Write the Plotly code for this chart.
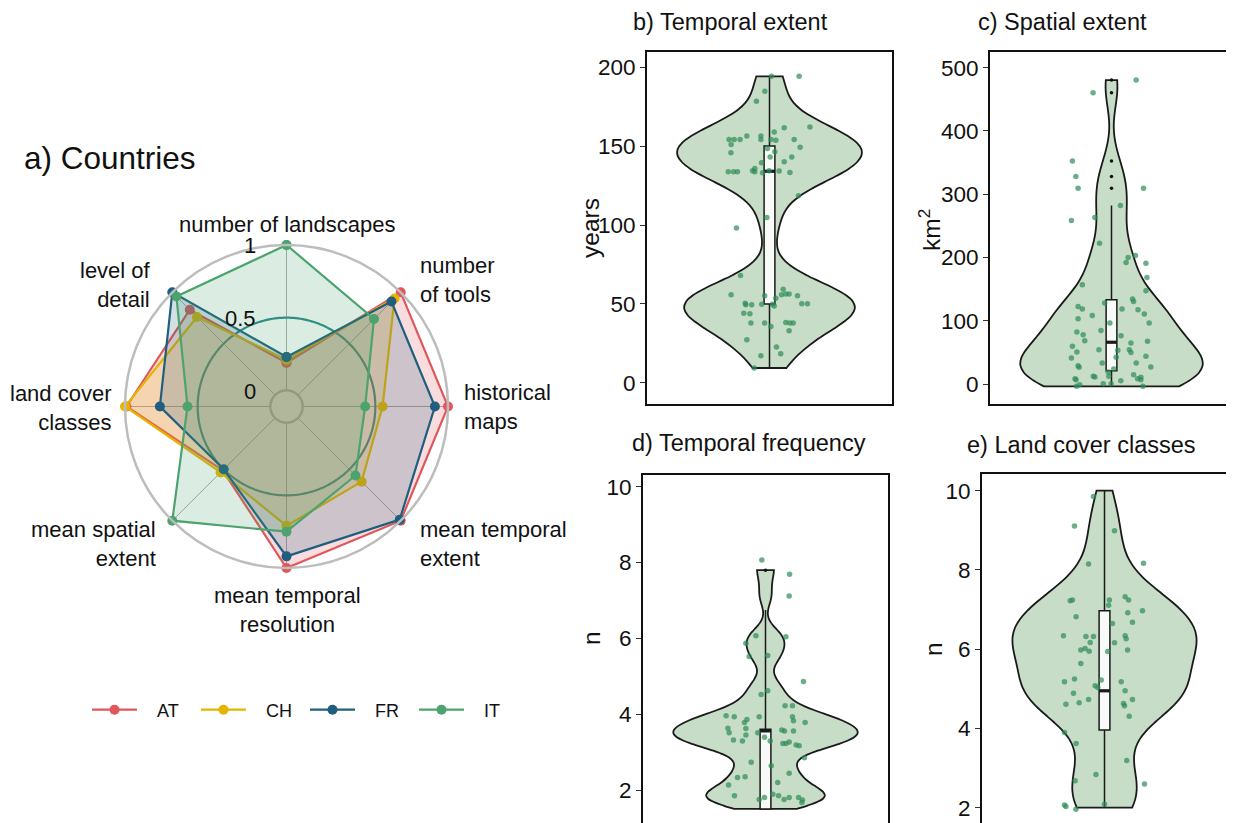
import numpy as np
import plotly.graph_objects as go

W, H = 1234, 823
OFF = 8  # default page body margin of the written html

# ---------------- a) Radar data ----------------
radar_axes = ["number of landscapes", "number<br>of tools", "historical<br>maps",
              "mean temporal<br>extent", "mean temporal<br>resolution",
              "mean spatial<br>extent", "land cover<br>classes", "level of<br>detail"]
countries = ["AT", "CH", "FR", "IT"]
AT = [0.19, 1.00, 1.00, 1.00, 1.00, 0.51, 0.99, 0.83]
CH = [0.21, 0.94, 0.55, 0.62, 0.71, 0.53, 1.00, 0.76]
FR = [0.23, 0.91, 0.91, 0.99, 0.92, 0.50, 0.76, 1.00]
IT = [1.00, 0.74, 0.43, 0.56, 0.75, 1.00, 0.57, 0.96]
country_colors = ["#E0575B", "#E5B400", "#1F5E7E", "#4CA36E"]
grid_values = [0, 0.5, 1]
grid_labels = ["0", "0.5", "1"]

# ---------------- b) Temporal extent (years) ----------------
te_y = [194.1, 194.1, 184.6, 178.3, 162.1, 161.5, 158.9, 156.4, 156.4, 154.1, 154.1, 154.1,
        154.1, 154.1, 153.7, 154.1, 150.9, 149.2, 148.4, 145.7, 146.3, 143.1, 143.1, 140.0,
        139.4, 135.8, 133.7, 133.7, 133.7, 134.3, 133.7, 133.0, 134.3, 134.1, 133.2, 118.5,
        104.8, 98.1, 68.0, 59.4, 55.8, 55.2, 55.8, 56.4, 56.4, 53.7, 55.2, 50.5, 49.5, 49.5,
        49.9, 49.9, 48.8, 50.1, 50.1, 44.2, 43.8, 37.9, 37.9, 35.8, 38.3, 37.9, 37.9, 33.0,
        27.4, 22.7, 18.5, 17.3, 9.5]
te_jit = [0.010, 0.145, -0.023, -0.064, 0.198, 0.072, 0.023, -0.111, -0.042, -0.042, -0.198,
          -0.173, -0.144, 0.007, 0.031, 0.121, -0.188, 0.150, -0.010, -0.189, 0.026, 0.109,
          0.003, 0.072, -0.039, -0.072, -0.202, -0.176, -0.157, -0.083, -0.072, -0.034, -0.002,
          0.047, 0.100, 0.142, -0.013, -0.162, -0.142, 0.067, -0.188, -0.024, 0.059, 0.080,
          0.096, 0.031, 0.137, -0.119, -0.116, -0.087, -0.038, 0.015, 0.023, 0.158, 0.186,
          -0.126, -0.096, -0.091, -0.024, 0.007, 0.080, 0.100, 0.116, 0.096, -0.111, 0.034,
          0.055, -0.042, -0.075]
te_box = dict(lowerfence=9.5, q1=50, median=134, q3=150, upperfence=194.1)
te_out = []

# ---------------- c) Spatial extent (km2) ----------------
se_y = [480.5, 460.5, 352.6, 327.9, 309.5, 309.5, 282.1, 263.2, 258.4, 222.6, 203.2, 200.0,
        192.1, 191.0, 168.4, 156.8, 147.4, 134.2, 130.5, 127.9, 122.6, 118.4, 118.4, 117.4,
        110.5, 108.4, 103.2, 96.3, 96.3, 84.7, 82.1, 77.9, 76.3, 68.4, 67.4, 64.7, 59.5, 54.2,
        53.2, 54.2, 50.0, 50.5, 42.1, 43.7, 41.1, 33.2, 33.2, 28.9, 26.3, 26.8, 23.7, 18.9,
        12.1, 11.1, 14.7, 12.1, 10.5, 8.4, 6.8, 8.4, 6.8, 5.3, -1.1, -3.7, 0.5, 0.5, -3.7]
se_jit = [0.122, -0.091, -0.193, -0.176, -0.165, 0.158, 0.044, -0.082, -0.198, -0.059, 0.118,
          0.082, 0.072, 0.170, 0.175, -0.144, 0.170, 0.104, 0.109, -0.034, -0.165, -0.144,
          0.052, 0.131, 0.162, -0.095, -0.165, -0.008, 0.186, -0.052, -0.171, -0.140, 0.047,
          -0.132, 0.178, 0.096, -0.193, -0.062, 0.031, 0.088, 0.096, -0.171, 0.023, 0.170,
          -0.198, -0.046, 0.122, -0.165, -0.160, 0.194, 0.011, -0.016, -0.090, -0.082, 0.109,
          -0.013, 0.145, 0.129, 0.145, -0.180, -0.175, 0.046, -0.157, -0.173, -0.041, -0.002,
          0.155]
se_box = dict(lowerfence=-3.7, q1=21, median=66, q3=133, upperfence=282)
se_out = [309.5, 327.9, 352.6, 460.5, 480.5]

# ---------------- d) Temporal frequency (n) ----------------
tf_y = [8.07, 7.69, 7.12, 6.07, 6.04, 5.87, 5.52, 5.55, 4.86, 4.62, 4.52, 4.22, 4.22, 3.96,
        3.93, 3.93, 3.93, 3.86, 3.83, 3.78, 3.78, 3.63, 3.62, 3.58, 3.56, 3.56, 3.51, 3.51,
        3.45, 3.39, 3.32, 3.29, 3.29, 3.27, 3.23, 3.23, 3.19, 3.17, 2.85, 2.73, 2.64, 2.44,
        2.35, 2.33, 2.20, 2.13, 1.85, 1.89, 1.85, 1.75, 1.80, 1.75, 1.80, 1.80, 1.74, 1.67]
tf_jit = [-0.018, 0.118, 0.116, -0.047, 0.100, -0.096, -0.080, 0.011, 0.186, 0.011, -0.021,
          0.096, 0.132, -0.193, -0.153, -0.031, 0.132, -0.091, 0.137, -0.103, 0.194, -0.184,
          -0.096, 0.080, 0.093, 0.137, -0.178, -0.038, -0.096, -0.005, -0.157, -0.113, 0.023,
          0.116, 0.085, 0.100, 0.150, 0.165, 0.191, -0.070, 0.028, 0.116, -0.100, -0.137,
          0.060, -0.181, -0.152, 0.036, 0.064, 0.091, 0.116, -0.031, -0.005, 0.162, 0.181,
          0.178]
tf_box = dict(lowerfence=1.5, q1=1.5, median=3.56, q3=3.6, upperfence=6.75)
tf_out = [7.8]
tf_span = [1.5, 7.8]

# ---------------- e) Land cover classes (n) ----------------
lc_y = [9.85, 9.11, 8.99, 8.15, 8.17, 7.22, 7.24, 7.32, 7.24, 7.24, 7.11, 6.97, 6.82, 6.92,
        6.68, 6.65, 6.34, 6.32, 6.32, 6.34, 6.26, 6.17, 6.16, 5.98, 6.02, 5.95, 5.98, 5.94,
        5.64, 5.18, 5.25, 5.22, 5.18, 5.08, 5.03, 4.95, 4.89, 4.73, 4.73, 4.65, 4.61, 4.63,
        4.57, 4.31, 3.90, 3.62, 3.19, 2.84, 2.68, 2.60, 2.07, 2.03, 1.96, 2.09]
lc_jit = [-0.054, -0.147, 0.049, -0.078, 0.191, -0.168, -0.157, 0.101, 0.118, 0.024, 0.020,
          0.186, -0.139, 0.114, 0.137, 0.039, -0.201, -0.091, -0.054, 0.101, 0.106, -0.070,
          0.049, -0.116, -0.095, -0.075, 0.113, 0.016, -0.116, -0.196, -0.147, -0.016, 0.082,
          -0.046, -0.033, 0.101, -0.152, 0.137, -0.078, -0.124, -0.189, 0.093, 0.098, 0.121,
          -0.196, -0.139, 0.109, -0.042, -0.144, 0.196, -0.196, -0.189, -0.140, 0.000]
lc_box = dict(lowerfence=2, q1=3.96, median=4.95, q3=6.97, upperfence=10)
lc_out = []
lc_span = [2, 10]

FONT = "Liberation Sans, Arial, sans-serif"
TXT = "#111111"
FW, FH = W - OFF, H - OFF


def px_x(p):
    return (p - OFF) / FW


def px_y(p):
    return 1 - (p - OFF) / FH


def rgba(hexc, a):
    hexc = hexc.lstrip("#")
    r, g, b = int(hexc[0:2], 16), int(hexc[2:4], 16), int(hexc[4:6], 16)
    return f"rgba({r},{g},{b},{a})"


def nrd0(v, adjust=1.0):
    v = np.asarray(v, dtype=float)
    sd = v.std(ddof=1)
    q75, q25 = np.percentile(v, [75, 25])
    lo = min(sd, (q75 - q25) / 1.34)
    return adjust * 0.9 * lo * len(v) ** (-0.2)


fig = go.Figure()

# ---- radar ----
r_min = grid_values[0] - (grid_values[2] - grid_values[0]) / 9.0
theta = [i * 360 / len(radar_axes) for i in range(len(radar_axes))]
circ = np.linspace(0, 360, 241)
for t in theta:  # spokes
    fig.add_trace(go.Scatterpolar(r=[grid_values[0], grid_values[2]], theta=[t, t],
                                  mode="lines", line=dict(color="#aaaaaa", width=1),
                                  showlegend=False, hoverinfo="skip"))
fig.add_trace(go.Scatterpolar(r=[grid_values[0]] * len(circ), theta=circ, mode="lines",
                              line=dict(color="#b9b9b9", width=2.5), showlegend=False,
                              hoverinfo="skip"))
fig.add_trace(go.Scatterpolar(r=[grid_values[1]] * len(circ), theta=circ, mode="lines",
                              line=dict(color="#2b8a88", width=2.2), showlegend=False,
                              hoverinfo="skip"))
for name, vals, col in zip(countries, [AT, CH, FR, IT], country_colors):
    rr, tt = vals + [vals[0]], theta + [theta[0]]
    fig.add_trace(go.Scatterpolar(r=rr, theta=tt, mode="lines", fill="toself",
                                  fillcolor=rgba(col, 0.2), line=dict(color=col, width=0),
                                  showlegend=False, hoverinfo="skip"))
    fig.add_trace(go.Scatterpolar(r=rr, theta=tt, mode="lines+markers",
                                  line=dict(color=col, width=2.2),
                                  marker=dict(size=10, color=col),
                                  name="\u00a0\u00a0\u00a0" + name))

cx, cy, R = 286.5, 406.5, 161.5
fig.update_layout(polar=dict(
    domain=dict(x=[px_x(cx - R), px_x(cx + R)], y=[px_y(cy + R), px_y(cy - R)]),
    bgcolor="white",
    radialaxis=dict(range=[r_min, grid_values[2]], showgrid=False, showline=False,
                    showticklabels=False, ticks=""),
    angularaxis=dict(rotation=90, direction="clockwise", tickvals=theta,
                     showticklabels=False, ticks="", showgrid=False,
                     showline=True, linecolor="#bdbdbd", linewidth=2.5),
))

# ---- violin panels ----
panels = [
    dict(k=2, y=te_y, jit=te_jit, box=te_box, out=te_out, span=None, adj=0.6,
         xdom=(647, 892), ydom=(52, 404), yr=[-13.3, 209.5], tv=[0, 50, 100, 150, 200], top=False),
    dict(k=3, y=se_y, jit=se_jit, box=se_box, out=se_out, span=None, adj=1.0,
         xdom=(990, 1233), ydom=(52, 404), yr=[-31.6, 524.8], tv=[0, 100, 200, 300, 400, 500], top=False),
    dict(k=4, y=tf_y, jit=tf_jit, box=tf_box, out=tf_out, span=tf_span, adj=0.6,
         xdom=(643, 888), ydom=(475, 823), yr=[1.13, 10.31], tv=[2, 4, 6, 8, 10], top=True),
    dict(k=5, y=lc_y, jit=lc_jit, box=lc_box, out=lc_out, span=lc_span, adj=1.0,
         xdom=(982, 1227), ydom=(474, 823), yr=[1.614, 10.42], tv=[2, 4, 6, 8, 10], top=True),
]
BOXW = 0.053
for p in panels:
    xa, ya = f"x{p['k']}", f"y{p['k']}"
    vkw = dict(spanmode="hard") if p["span"] is None else dict(spanmode="manual", span=p["span"])
    fig.add_trace(go.Violin(x=[0] * len(p["y"]), y=p["y"], xaxis=xa, yaxis=ya, width=0.9,
                            scalemode="width", bandwidth=nrd0(p["y"], p["adj"]),
                            fillcolor="rgba(143,188,143,0.5)",
                            line=dict(color="#1a1a1a", width=1.8), points=False,
                            showlegend=False, hoverinfo="skip", orientation="v", **vkw))
    b = p["box"]
    fig.add_trace(go.Box(x=[0], q1=[b["q1"]], median=[b["median"]], q3=[b["q3"]],
                         lowerfence=[b["lowerfence"]], upperfence=[b["upperfence"]],
                         xaxis=xa, yaxis=ya, width=BOXW, whiskerwidth=0,
                         fillcolor="rgba(255,255,255,0.85)",
                         line=dict(color="#1a1a1a", width=1.5), boxpoints=False,
                         showlegend=False, hoverinfo="skip", orientation="v"))
    fig.add_trace(go.Scatter(x=[-BOXW / 2, BOXW / 2], y=[b["median"]] * 2, xaxis=xa, yaxis=ya,
                             mode="lines", line=dict(color="#1a1a1a", width=3.2),
                             showlegend=False, hoverinfo="skip"))
    if p["out"]:
        fig.add_trace(go.Scatter(x=[0] * len(p["out"]), y=p["out"], xaxis=xa, yaxis=ya,
                                 mode="markers", marker=dict(color="#111111", size=3.5),
                                 showlegend=False, hoverinfo="skip"))
    fig.add_trace(go.Scatter(x=p["jit"], y=p["y"], xaxis=xa, yaxis=ya, mode="markers",
                             marker=dict(color="rgba(46,139,87,0.7)", size=5.5),
                             showlegend=False, hoverinfo="skip"))
    xname = f"xaxis{p['k']}"
    yname = f"yaxis{p['k']}"
    fig.layout[xname] = dict(domain=[px_x(p["xdom"][0]), min(1, px_x(p["xdom"][1]))], anchor=ya,
                             range=[-0.6, 0.6], showticklabels=False, ticks="",
                             showgrid=False, zeroline=False, showline=True,
                             mirror=not p["top"], side="top" if p["top"] else "bottom",
                             linecolor="#111111", linewidth=2)
    fig.layout[yname] = dict(domain=[max(0, px_y(p["ydom"][1])), px_y(p["ydom"][0])], anchor=xa,
                             range=p["yr"], tickvals=p["tv"], ticks="outside", ticklen=5,
                             tickwidth=1.2, tickcolor="#333333", showgrid=False,
                             zeroline=False, showline=True, mirror=True,
                             linecolor="#111111", linewidth=2,
                             tickfont=dict(size=22.5, color=TXT, family=FONT))

# ---- annotations ----
ann = []


def add_text(text, x, y, size=22.5, xanchor="center", yanchor="middle", angle=0, align=None):
    d = dict(text=text, x=px_x(x), y=px_y(y), xref="paper", yref="paper", showarrow=False,
             xanchor=xanchor, yanchor=yanchor, textangle=angle,
             font=dict(size=size, color=TXT, family=FONT))
    if align:
        d["align"] = align
    ann.append(d)


add_text("a) Countries", 22, 158, size=31.5, xanchor="left")
add_text("b) Temporal extent", 731, 22, size=23.5)
add_text("c) Spatial extent", 1062, 22, size=23.5)
add_text("d) Temporal frequency", 749, 443, size=23.5)
add_text("e) Land cover classes", 1081, 445, size=23.5)
add_text("years", 590, 228, size=24.5, angle=-90)
add_text("km<sup>2</sup>", 930, 230, size=24.5, angle=-90)
add_text("n", 591, 638, size=24.5, angle=-90)
add_text("n", 933, 649, size=24.5, angle=-90)

label_pos = [(287, 224, "center"), (418, 280, "left"), (462, 407, "left"),
             (418, 544, "left"), (287, 610, "center"), (158, 544, "right"),
             (114, 408, "right"), (153, 285, "right")]
for lab, (lx, ly, anc) in zip(radar_axes, label_pos):
    add_text(lab, lx, ly, size=22, xanchor=anc, align=anc)
for gv, gl in zip(grid_values, grid_labels):
    ry = cy - R * (0.1 + 0.9 * gv)
    add_text(gl, 258, ry + 1, size=22, xanchor="right")

fig.update_layout(
    width=FW, height=FH, margin=dict(l=0, r=0, t=0, b=0),
    paper_bgcolor="white", plot_bgcolor="white",
    font=dict(family=FONT, color=TXT),
    annotations=ann,
    showlegend=True,
    legend=dict(orientation="h", x=px_x(87), y=px_y(710), xanchor="left", yanchor="middle",
                font=dict(size=18, color=TXT, family=FONT), itemwidth=45,
                entrywidth=49, bgcolor="rgba(0,0,0,0)"),
)

fig.write_html("out.html")
